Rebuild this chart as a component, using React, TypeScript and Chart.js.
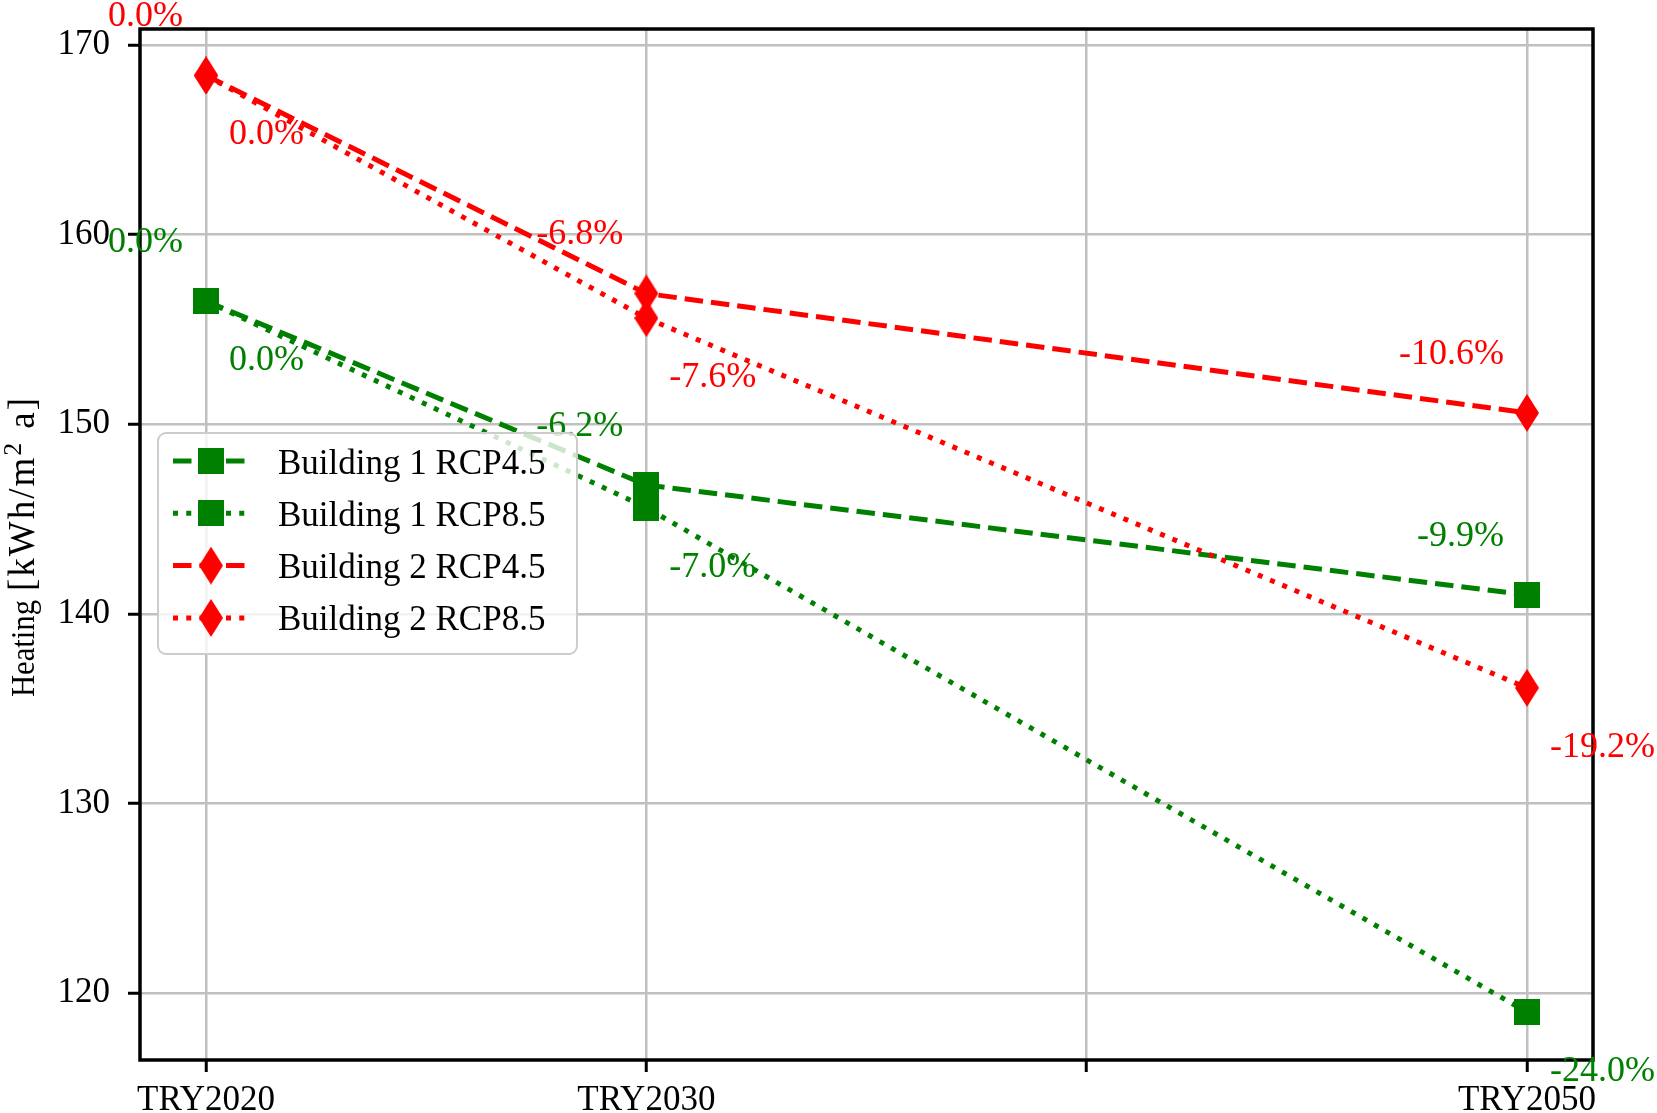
import { useEffect, useRef } from "react";
import { Chart, registerables } from "chart.js";

Chart.register(...registerables);

// x positions (years) of the three scenarios
const years = [2020, 2030, 2050];
const xTickValues = [2020, 2030, 2040, 2050];
const xTickLabels = ["TRY2020", "TRY2030", "", "TRY2050"];
const yTickValues = [120, 130, 140, 150, 160, 170];

const seriesNames = ["Building 1 RCP4.5", "Building 1 RCP8.5", "Building 2 RCP4.5", "Building 2 RCP8.5"];

const b1Rcp45 = [156.5, 146.8, 141.0];
const b1Rcp85 = [156.5, 145.6, 119.0];
const b2Rcp45 = [168.4, 156.9, 150.6];
const b2Rcp85 = [168.4, 155.6, 136.1];

// relative change labels next to each point
const b1Rcp45Labels = ["0.0%", "-6.2%", "-9.9%"];
const b1Rcp85Labels = ["0.0%", "-7.0%", "-24.0%"];
const b2Rcp45Labels = ["0.0%", "-6.8%", "-10.6%"];
const b2Rcp85Labels = ["0.0%", "-7.6%", "-19.2%"];

// y axis title pieces: word, unit, superscript, rest
const yTitle = ["Heating", "[kWh/m", "2", "a]"];

const GREEN = "#008000";
const RED = "#ff0000";
const FONT = "'Liberation Serif', 'Times New Roman', serif";
const LW = 5;
const DASHED = [3.7 * LW, 1.6 * LW];
const DOTTED = [1 * LW, 1.65 * LW];

function squareMarker(color: string) {
  const c = document.createElement("canvas");
  c.width = 26;
  c.height = 26;
  const g = c.getContext("2d")!;
  g.fillStyle = color;
  g.fillRect(0, 0, 26, 26);
  return c;
}

function diamondMarker(color: string) {
  const w = 24;
  const h = 38;
  const c = document.createElement("canvas");
  c.width = w;
  c.height = h;
  const g = c.getContext("2d")!;
  g.fillStyle = color;
  g.beginPath();
  g.moveTo(w / 2, 0);
  g.lineTo(w, h / 2);
  g.lineTo(w / 2, h);
  g.lineTo(0, h / 2);
  g.closePath();
  g.fill();
  return c;
}

export default function App() {
  const chartRef = useRef<HTMLCanvasElement>(null);
  const chartInstance = useRef<Chart | null>(null);

  useEffect(() => {
    if (!chartRef.current) return;
    if (chartInstance.current) chartInstance.current.destroy();
    const ctx = chartRef.current.getContext("2d");
    if (!ctx) return;

    const sq = squareMarker(GREEN);
    const dia = diamondMarker(RED);

    const values = [b1Rcp45, b1Rcp85, b2Rcp45, b2Rcp85];
    const labels = [b1Rcp45Labels, b1Rcp85Labels, b2Rcp45Labels, b2Rcp85Labels];
    const colors = [GREEN, GREEN, RED, RED];
    const dashes = [DASHED, DOTTED, DASHED, DOTTED];
    const markers = [sq, sq, dia, dia];
    const above = [true, false, true, false];

    const overlay = {
      id: "overlay",
      afterDraw(chart: any) {
        const c = chart.ctx;
        const { left, top, right, bottom } = chart.chartArea;
        const xs = chart.scales.x;
        const ys = chart.scales.y;

        // frame
        c.save();
        c.strokeStyle = "#000";
        c.lineWidth = 3.5;
        c.strokeRect(left, top, right - left, bottom - top);
        c.restore();

        // y axis title (rotated, with superscript)
        c.save();
        const parts = [
          { t: yTitle[0], size: 33, ls: 0, dy: 0, sx: 0.93, gap: 9 },
          { t: yTitle[1], size: 37, ls: 2, dy: 0, sx: 1, gap: 0 },
          { t: yTitle[2], size: 26, ls: 0, dy: -13, sx: 1, gap: 14 },
          { t: yTitle[3], size: 37, ls: 2, dy: 0, sx: 1, gap: 0 },
        ];
        let total = 0;
        const widths = parts.map((p) => {
          c.font = `${p.size}px ${FONT}`;
          (c as any).letterSpacing = `${p.ls}px`;
          const w = c.measureText(p.t).width * p.sx + p.gap;
          total += w;
          return w;
        });
        c.translate(34, (top + bottom) / 2 + 2);
        c.rotate(-Math.PI / 2);
        c.fillStyle = "#000";
        c.textAlign = "left";
        c.textBaseline = "alphabetic";
        let tx = -total / 2;
        parts.forEach((p, i) => {
          c.save();
          c.font = `${p.size}px ${FONT}`;
          (c as any).letterSpacing = `${p.ls}px`;
          c.translate(tx, p.dy);
          c.scale(p.sx, 1);
          c.fillText(p.t, 0, 0);
          c.restore();
          tx += widths[i];
        });
        c.restore();

        // percentage annotations
        c.save();
        c.font = `36px ${FONT}`;
        c.textBaseline = "alphabetic";
        values.forEach((vals, i) => {
          c.fillStyle = colors[i];
          vals.forEach((v, j) => {
            const px = xs.getPixelForValue(years[j]);
            const py = ys.getPixelForValue(v);
            if (above[i]) {
              c.textAlign = "right";
              c.fillText(labels[i][j], px - 23, py - 49);
            } else {
              c.textAlign = "left";
              c.fillText(labels[i][j], px + 23, py + 69);
            }
          });
        });
        c.restore();

        // legend
        const bx = 158, by = 433, bw = 419, bh = 221, r = 8;
        c.save();
        c.beginPath();
        c.roundRect(bx, by, bw, bh, r);
        c.fillStyle = "rgba(255,255,255,0.8)";
        c.fill();
        c.strokeStyle = "#cccccc";
        c.lineWidth = 2;
        c.stroke();
        chart.data.datasets.forEach((ds: any, i: number) => {
          const cy = 461 + i * 52.3;
          c.strokeStyle = ds.borderColor;
          c.lineWidth = LW;
          c.setLineDash(ds.borderDash);
          c.beginPath();
          c.moveTo(173, cy);
          c.lineTo(247, cy);
          c.stroke();
          c.setLineDash([]);
          const m = ds.pointStyle as HTMLCanvasElement;
          c.drawImage(m, 211 - m.width / 2, cy - m.height / 2);
          c.fillStyle = "#000";
          c.font = `35px ${FONT}`;
          c.textAlign = "left";
          c.textBaseline = "alphabetic";
          c.fillText(ds.label, 278, cy + 12.5);
        });
        c.restore();
      },
    };

    chartInstance.current = new Chart(ctx, {
      type: "line",
      data: {
        datasets: values.map((vals, i) => ({
          label: seriesNames[i],
          data: vals.map((v, j) => ({ x: years[j], y: v })),
          borderColor: colors[i],
          backgroundColor: colors[i],
          borderWidth: LW,
          borderDash: dashes[i],
          borderCapStyle: "butt" as const,
          tension: 0,
          fill: false,
          pointStyle: markers[i] as any,
          pointRadius: 13,
          pointHoverRadius: 13,
          order: 3 - i,
        })),
      },
      options: {
        responsive: true,
        maintainAspectRatio: false,
        animation: false,
        layout: { padding: { top: 29, right: 64, left: 0, bottom: 0 } },
        plugins: {
          legend: { display: false },
          tooltip: { enabled: false },
        },
        scales: {
          x: {
            type: "linear",
            min: 2018.5,
            max: 2051.5,
            afterBuildTicks: (scale: any) => {
              scale.ticks = xTickValues.map((v) => ({ value: v }));
            },
            afterFit: (scale: any) => {
              scale.height = 53;
              scale.paddingLeft = 0;
              scale.paddingRight = 0;
            },
            ticks: {
              autoSkip: false,
              maxRotation: 0,
              padding: 8,
              color: "#000",
              font: { family: FONT, size: 35 },
              callback: (value: any) => {
                const k = xTickValues.indexOf(Number(value));
                return k >= 0 ? xTickLabels[k] : "";
              },
            },
            grid: {
              color: "#c0c0c0",
              lineWidth: 2.5,
              tickColor: "#000",
              tickWidth: 3,
              tickLength: 12,
            },
            border: { display: false },
          },
          y: {
            type: "linear",
            min: 116.47,
            max: 170.85,
            afterBuildTicks: (scale: any) => {
              scale.ticks = yTickValues.map((v) => ({ value: v }));
            },
            afterFit: (scale: any) => {
              scale.width = 140;
              scale.paddingTop = 0;
              scale.paddingBottom = 0;
            },
            ticks: {
              padding: 18,
              color: "#000",
              font: { family: FONT, size: 35 },
            },
            grid: {
              color: "#c0c0c0",
              lineWidth: 2.5,
              tickColor: "#000",
              tickWidth: 3,
              tickLength: 12,
            },
            border: { display: false },
          },
        },
      },
      plugins: [overlay],
    });

    return () => {
      if (chartInstance.current) {
        chartInstance.current.destroy();
        chartInstance.current = null;
      }
    };
  }, []);

  return (
    <div style={{ position: "absolute", left: 0, top: 0, width: 1657, height: 1113, background: "#fff" }}>
      <canvas ref={chartRef} />
    </div>
  );
}
